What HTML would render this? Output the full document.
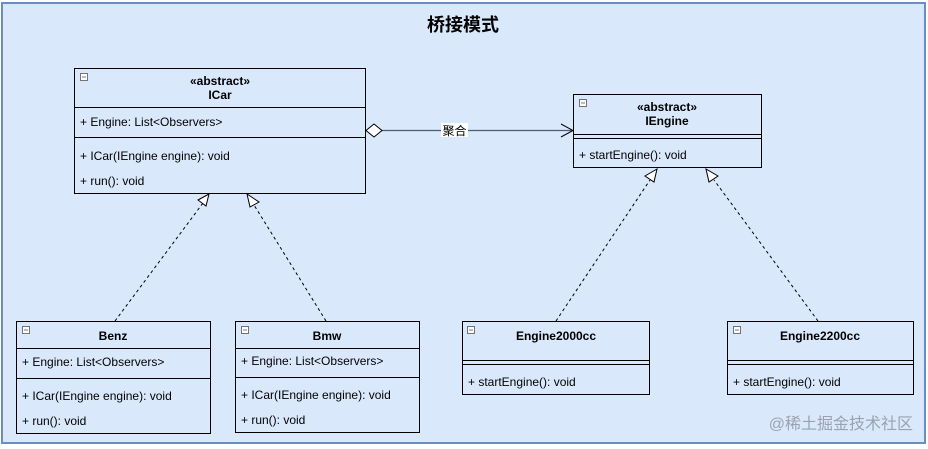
<!DOCTYPE html>
<html><head><meta charset="utf-8"><style>
html,body{margin:0;padding:0;background:#fff;}
svg{display:block;}
text{font-family:"Liberation Sans","Noto Sans CJK SC",sans-serif;font-size:12px;fill:#000;}
.b{font-weight:bold;}
</style></head><body>
<svg width="928" height="449" viewBox="0 0 928 449" xmlns="http://www.w3.org/2000/svg">
<rect x="2" y="3" width="923" height="440" fill="#dae8fc" stroke="#6c8ebf" stroke-width="2"/>
<text x="463" y="31" text-anchor="middle" class="b" style="font-size:18px">桥接模式</text>

<g fill="none" stroke="#000" stroke-width="1">
<rect x="74.5" y="68.5" width="291" height="125"/>
<line x1="74" y1="107.5" x2="366" y2="107.5"/>
<line x1="74" y1="137.5" x2="366" y2="137.5"/>
<rect x="573.5" y="94.5" width="188" height="73"/>
<line x1="573" y1="134.5" x2="762" y2="134.5"/>
<line x1="573" y1="138.5" x2="762" y2="138.5"/>
<rect x="16.5" y="321.5" width="194" height="112"/>
<line x1="16" y1="348.5" x2="211" y2="348.5"/>
<line x1="16" y1="378.5" x2="211" y2="378.5"/>
<rect x="235.5" y="321.5" width="184" height="111"/>
<line x1="235" y1="348.5" x2="420" y2="348.5"/>
<line x1="235" y1="377.5" x2="420" y2="377.5"/>
<rect x="462.5" y="321.5" width="187" height="73"/>
<line x1="462" y1="360.5" x2="650" y2="360.5"/>
<line x1="462" y1="364.5" x2="650" y2="364.5"/>
<rect x="727.5" y="321.5" width="186" height="73"/>
<line x1="727" y1="360.5" x2="914" y2="360.5"/>
<line x1="727" y1="364.5" x2="914" y2="364.5"/>
</g>

<g fill="#fff" stroke="#555" stroke-width="0.8">
<rect x="80.5" y="73.5" width="7" height="7"/><rect x="579.5" y="99.5" width="7" height="7"/>
<rect x="22.5" y="326.5" width="7" height="7"/><rect x="241.5" y="326.5" width="7" height="7"/>
<rect x="467.5" y="326.5" width="7" height="7"/><rect x="733.5" y="326.5" width="7" height="7"/>
</g>
<g stroke="#555" stroke-width="0.8">
<line x1="82" y1="77" x2="86" y2="77"/><line x1="581" y1="103" x2="585" y2="103"/>
<line x1="24" y1="330" x2="28" y2="330"/><line x1="243" y1="330" x2="247" y2="330"/>
<line x1="469" y1="330" x2="473" y2="330"/><line x1="735" y1="330" x2="739" y2="330"/>
</g>

<line x1="382" y1="130.5" x2="572" y2="130.5" stroke="#4d5d70" stroke-width="1.2"/>
<path d="M366 130.5 L374 124 L382 130.5 L374 137 Z" fill="#fff" stroke="#000"/>
<path d="M561 124 L573 130.5 L561 137" fill="none" stroke="#000"/>
<rect x="441" y="123" width="27" height="14" fill="#fff"/>
<text x="454.5" y="135" text-anchor="middle" style="font-size:12px">聚合</text>

<g stroke="#000" stroke-dasharray="3,3" fill="none">
<line x1="115" y1="321" x2="203" y2="203"/>
<line x1="326" y1="321" x2="254" y2="205"/>
<line x1="556" y1="321" x2="650" y2="180"/>
<line x1="818" y1="321" x2="714" y2="180"/>
</g>
<g fill="#fff" stroke="#000">
<path d="M209 194 L198 200 L206 206 Z"/>
<path d="M247 194 L250 207 L259 202 Z"/>
<path d="M657 169 L645 176 L654 182 Z"/>
<path d="M706 169 L709 182 L718 176 Z"/>
</g>

<text x="220" y="85" text-anchor="middle" class="b">«abstract»</text>
<text x="220" y="99" text-anchor="middle" class="b">ICar</text>
<text x="80" y="126">+ Engine: List&lt;Observers&gt;</text>
<text x="80" y="160">+ ICar(IEngine engine): void</text>
<text x="80" y="185">+ run(): void</text>

<text x="667" y="111" text-anchor="middle" class="b">«abstract»</text>
<text x="667" y="125" text-anchor="middle" class="b">IEngine</text>
<text x="579" y="159">+ startEngine(): void</text>

<text x="113" y="340" text-anchor="middle" class="b">Benz</text>
<text x="22" y="366">+ Engine: List&lt;Observers&gt;</text>
<text x="22" y="400">+ ICar(IEngine engine): void</text>
<text x="22" y="425">+ run(): void</text>

<text x="327" y="340" text-anchor="middle" class="b">Bmw</text>
<text x="241" y="365">+ Engine: List&lt;Observers&gt;</text>
<text x="241" y="399">+ ICar(IEngine engine): void</text>
<text x="241" y="424">+ run(): void</text>

<text x="556" y="340" text-anchor="middle" class="b">Engine2000cc</text>
<text x="468" y="386">+ startEngine(): void</text>

<text x="820" y="340" text-anchor="middle" class="b">Engine2200cc</text>
<text x="733" y="386">+ startEngine(): void</text>

<text x="913" y="429" text-anchor="end" style="font-size:16px;fill:#9aa3ad">@稀土掘金技术社区</text>
</svg>
</body></html>
